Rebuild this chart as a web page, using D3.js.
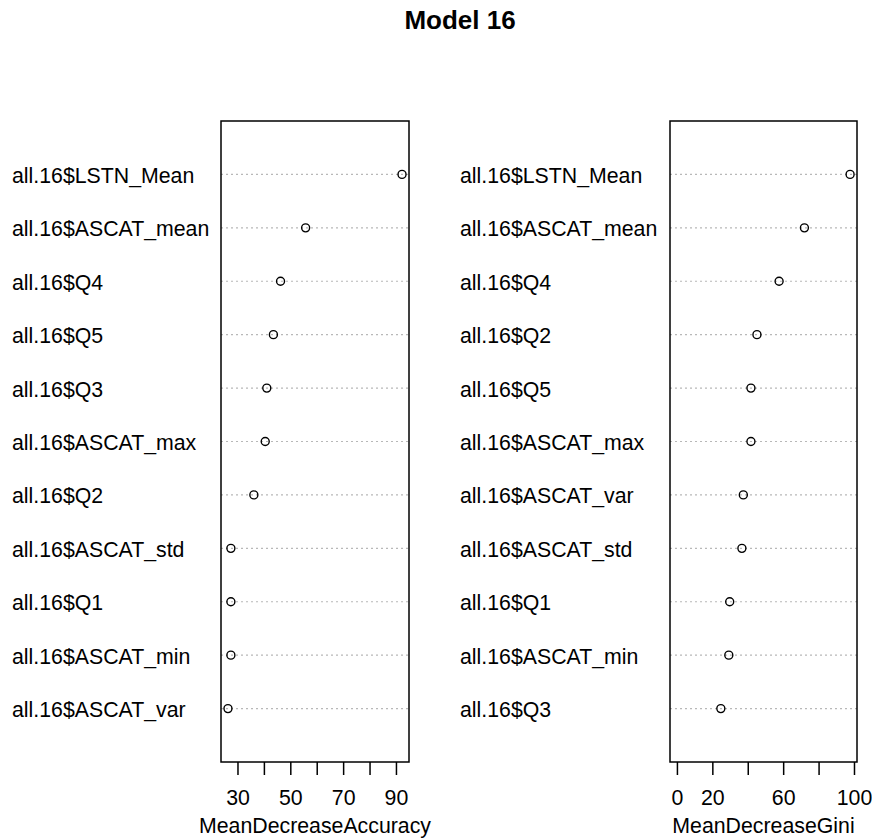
<!DOCTYPE html>
<html>
<head>
<meta charset="utf-8">
<script src="https://cdn.jsdelivr.net/npm/d3@7"></script>
<style>
  html, body { margin: 0; padding: 0; background: #fff; }
  text { font-family: "Liberation Sans", Arial, sans-serif; fill: #000; }
</style>
</head>
<body>
<svg id="chart" width="872" height="840"></svg>
<script>
// Variable importance for random forest Model 16 (top to bottom in each panel)
const accuracyVars = ["all.16$LSTN_Mean", "all.16$ASCAT_mean", "all.16$Q4", "all.16$Q5",
  "all.16$Q3", "all.16$ASCAT_max", "all.16$Q2", "all.16$ASCAT_std", "all.16$Q1",
  "all.16$ASCAT_min", "all.16$ASCAT_var"];
const accuracyValues = [92.3, 55.8, 46.3, 43.6, 41.1, 40.5, 36.2, 27.5, 27.5, 27.5, 26.4];
const accuracyTicks = [30, 40, 50, 60, 70, 80, 90];
const accuracyTickLabels = [30, 50, 70, 90];

const giniVars = ["all.16$LSTN_Mean", "all.16$ASCAT_mean", "all.16$Q4", "all.16$Q2",
  "all.16$Q5", "all.16$ASCAT_max", "all.16$ASCAT_var", "all.16$ASCAT_std", "all.16$Q1",
  "all.16$ASCAT_min", "all.16$Q3"];
const giniValues = [97.8, 72.0, 57.7, 45.2, 41.8, 41.8, 37.5, 36.7, 29.8, 29.3, 24.8];
const giniTicks = [0, 20, 40, 60, 80, 100];
const giniTickLabels = [0, 20, 60, 100];

const svg = d3.select("#chart");
const fontSize = 21.3;

svg.append("text")
  .attr("x", 460).attr("y", 28.5)
  .attr("text-anchor", "middle")
  .style("font-size", "26px").style("font-weight", "bold")
  .text("Model 16");

const plotTop = 121, plotBottom = 762;

function dotPanel(cfg) {
  const n = cfg.vars.length;
  const x = d3.scaleLinear().domain(cfg.domain).range([cfg.left, cfg.right]);
  // row 1 at the bottom, row n at the top, padded by one row each side
  const y = d3.scaleLinear().domain([0, n + 1]).range([plotBottom, plotTop]);
  const g = svg.append("g");
  const rowY = (i) => y(n - i);

  // guide lines
  g.selectAll("line.guide").data(cfg.vars).join("line")
    .attr("class", "guide")
    .attr("x1", cfg.left).attr("x2", cfg.right)
    .attr("y1", (d, i) => rowY(i)).attr("y2", (d, i) => rowY(i))
    .attr("stroke", "#b8b8b8").attr("stroke-width", 1.1)
    .attr("stroke-dasharray", "2,3");

  // row labels
  g.selectAll("text.lab").data(cfg.vars).join("text")
    .attr("class", "lab")
    .attr("x", cfg.labelX).attr("y", (d, i) => rowY(i) + 8.5)
    .style("font-size", fontSize + "px")
    .text(d => d);

  // points
  g.selectAll("circle").data(cfg.values).join("circle")
    .attr("cx", d => x(d)).attr("cy", (d, i) => rowY(i))
    .attr("r", 4).attr("fill", "none")
    .attr("stroke", "#000").attr("stroke-width", 1.4);

  // frame
  g.append("rect")
    .attr("x", cfg.left).attr("y", plotTop)
    .attr("width", cfg.right - cfg.left).attr("height", plotBottom - plotTop)
    .attr("fill", "none").attr("stroke", "#000").attr("stroke-width", 1.5);

  // bottom axis
  const axis = d3.axisBottom(x)
    .tickValues(cfg.ticks)
    .tickSize(13)
    .tickSizeOuter(0)
    .tickFormat(d => cfg.tickLabels.includes(d) ? d : "");
  const ag = g.append("g").attr("transform", `translate(0,${plotBottom})`).call(axis);
  ag.selectAll(".tick line").attr("stroke", "#000").attr("stroke-width", 1.5);
  ag.selectAll(".tick text")
    .attr("y", 28).attr("dy", "0.71em")
    .style("font-size", fontSize + "px")
    .style("font-family", "'Liberation Sans', Arial, sans-serif")
    .attr("fill", "#000");
  ag.select(".domain").remove();

  g.append("text")
    .attr("x", (cfg.left + cfg.right) / 2).attr("y", 833)
    .attr("text-anchor", "middle")
    .style("font-size", fontSize + "px")
    .text(cfg.title);
}

dotPanel({
  vars: accuracyVars, values: accuracyValues,
  ticks: accuracyTicks, tickLabels: accuracyTickLabels,
  domain: [23.76, 94.94], left: 221, right: 409, labelX: 12,
  title: "MeanDecreaseAccuracy"
});

dotPanel({
  vars: giniVars, values: giniValues,
  ticks: giniTicks, tickLabels: giniTickLabels,
  domain: [-3.91, 101.7], left: 670, right: 857, labelX: 460,
  title: "MeanDecreaseGini"
});
</script>
</body>
</html>
